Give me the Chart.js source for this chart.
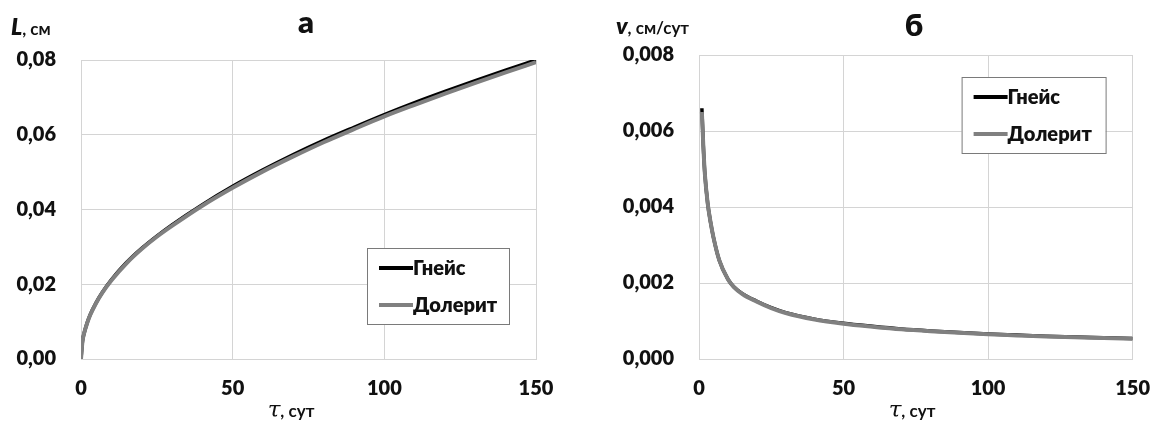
<!DOCTYPE html>
<html lang="ru">
<head>
<meta charset="utf-8">
<script src="https://cdn.jsdelivr.net/npm/chart.js@4.4.1/dist/chart.umd.min.js"></script>
<style>
  body { margin: 0; background: #fff; font-family: Lato, "Open Sans", sans-serif; }
  #wrap { position: relative; width: 1168px; height: 423px; overflow: hidden; }
  .box { position: absolute; top: 0; width: 584px; height: 423px; }
  .t { position: absolute; white-space: nowrap; color: #111; font-weight: 700; line-height: 1; }
  .c { transform: translate(-50%, -50%); }
  .l { transform: translateY(-50%); }
  .ttl { font-size: 31px; font-weight: 800; }
  .ax { font-size: 17px; }
  .ax i { font-size: 23px; font-weight: 800; }
  .tau { font-family: "DejaVu Serif", serif; font-style: italic; font-weight: 400; font-size: 23px; }
</style>
</head>
<body>
<div id="wrap">
  <div class="box" style="left:0"><canvas id="chartA"></canvas></div>
  <div class="box" style="left:584px"><canvas id="chartB"></canvas></div>

  <div class="t ax l" style="left:11px; top:26px"><i>L</i>, см</div>
  <div class="t ttl c" style="left:306px; top:21px">а</div>
  <div class="t ax c" style="left:291px; top:409px"><span class="tau">τ</span>, сут</div>

  <div class="t ax l" style="left:616px; top:25px"><i>v</i>, см/сут</div>
  <div class="t ttl c" style="left:914px; top:24px">б</div>
  <div class="t ax c" style="left:912px; top:409px"><span class="tau">τ</span>, сут</div>
</div>

<script>
// а: L(τ), см
const tauA = [0, 0.5, 1, 2, 3, 5, 7, 10, 15, 20, 25, 30, 40, 50, 60, 70, 80, 90, 100, 110, 120, 130, 140, 150];
const gneissL = [0, 0.0048, 0.0068, 0.0096, 0.0118, 0.0151, 0.0178, 0.0212, 0.0258, 0.0296, 0.0329, 0.0359,
  0.0413, 0.0462, 0.0506, 0.0547, 0.0585, 0.0620, 0.0654, 0.0686, 0.0716, 0.0745, 0.0773, 0.0800];
const doleriteL = [0, 0.0048, 0.0068, 0.0095, 0.0117, 0.0150, 0.0177, 0.0210, 0.0256, 0.0294, 0.0327, 0.0356,
  0.0410, 0.0458, 0.0502, 0.0542, 0.0580, 0.0615, 0.0649, 0.0680, 0.0710, 0.0739, 0.0767, 0.0794];

// б: v(τ), см/сут
const tauB = [1, 1.5, 2, 3, 4, 5, 7, 10, 12, 15, 20, 25, 30, 40, 50, 60, 70, 80, 90, 100, 110, 120, 130, 140, 150];
const gneissV = [0.0066, 0.0056, 0.0049, 0.0041, 0.0036, 0.0032, 0.0026, 0.0021, 0.0019, 0.00172, 0.00152, 0.00135,
  0.00122, 0.00105, 0.00094, 0.00086, 0.00079, 0.00074, 0.00070, 0.00066, 0.00063, 0.00060, 0.00058, 0.00056, 0.00054];
const doleriteV = [0.0065, 0.0056, 0.0049, 0.0041, 0.0036, 0.0032, 0.0026, 0.0021, 0.0019, 0.00171, 0.00151, 0.00134,
  0.00121, 0.00104, 0.00093, 0.00085, 0.00078, 0.00073, 0.00069, 0.00065, 0.00062, 0.00059, 0.00057, 0.00055, 0.00053];

const seriesNames = ['Гнейс', 'Долерит'];
const xTickLabels = ['0', '50', '100', '150'];
const yTickLabelsA = ['0,00', '0,02', '0,04', '0,06', '0,08'];
const yTickLabelsB = ['0,000', '0,002', '0,004', '0,006', '0,008'];

const FONT = 'Lato, "Open Sans", sans-serif';
const GRID = '#d4d4d4';

const legendBox = {
  id: 'legendBox',
  afterDatasetsDraw(chart, args, opts) {
    const { ctx, chartArea } = chart;
    const x = chartArea.right - opts.right - opts.width;
    const y = chartArea.top + opts.top;
    ctx.save();
    ctx.fillStyle = '#fff';
    ctx.fillRect(x, y, opts.width, 76);
    ctx.strokeStyle = '#7a7a7a';
    ctx.lineWidth = 1;
    ctx.strokeRect(x + 0.5, y + 0.5, opts.width, 76);
    ctx.font = '800 20px ' + FONT;
    ctx.textBaseline = 'middle';
    chart.data.datasets.forEach((ds, i) => {
      const ly = y + 20 + i * 37;
      ctx.strokeStyle = ds.borderColor;
      ctx.lineWidth = 4;
      ctx.beginPath();
      ctx.moveTo(x + 12, ly);
      ctx.lineTo(x + 46, ly);
      ctx.stroke();
      ctx.fillStyle = '#111';
      ctx.fillText(ds.label, x + 46, ly + 1);
    });
    ctx.restore();
  }
};

function pts(xs, ys) {
  return xs.map((x, i) => ({ x: x, y: ys[i] }));
}

function makeChart(id, xs, s1, s2, yMax, yStep, yLabels, yWidth, pad, legend) {
  return new Chart(document.getElementById(id), {
    type: 'line',
    data: {
      datasets: [
        { label: seriesNames[0], data: pts(xs, s1), borderColor: '#000', borderWidth: 3.5, order: 2 },
        { label: seriesNames[1], data: pts(xs, s2), borderColor: '#808080', borderWidth: 4, order: 1 }
      ]
    },
    options: {
      responsive: true,
      maintainAspectRatio: false,
      animation: false,
      layout: { padding: pad },
      elements: { point: { radius: 0 }, line: { cubicInterpolationMode: 'monotone' } },
      plugins: { legend: { display: false }, tooltip: { enabled: false }, legendBox: legend },
      scales: {
        x: {
          type: 'linear', min: 0, max: 150,
          grid: { color: GRID, drawTicks: false },
          border: { color: GRID },
          ticks: {
            stepSize: 50, padding: 18, color: '#111',
            font: { family: FONT, size: 20, weight: '800' },
            callback: (v, i) => xTickLabels[i]
          },
          afterFit: s => { s.height = 64; }
        },
        y: {
          min: 0, max: yMax,
          grid: { color: GRID, drawTicks: false },
          border: { color: GRID },
          ticks: {
            stepSize: yStep, padding: 25, color: '#111',
            font: { family: FONT, size: 20, weight: '800' },
            callback: (v, i) => yLabels[i]
          },
          afterFit: s => { s.width = yWidth; }
        }
      }
    },
    plugins: [legendBox]
  });
}

makeChart('chartA', tauA, gneissL, doleriteL, 0.08, 0.02, yTickLabelsA, 81,
  { top: 60, right: 48, left: 0, bottom: 0 }, { right: 27, top: 188, width: 142 });
makeChart('chartB', tauB, gneissV, doleriteV, 0.008, 0.002, yTickLabelsB, 115,
  { top: 55, right: 24, left: 0, bottom: 0 }, { right: 27, top: 22, width: 144 });
</script>
</body>
</html>
